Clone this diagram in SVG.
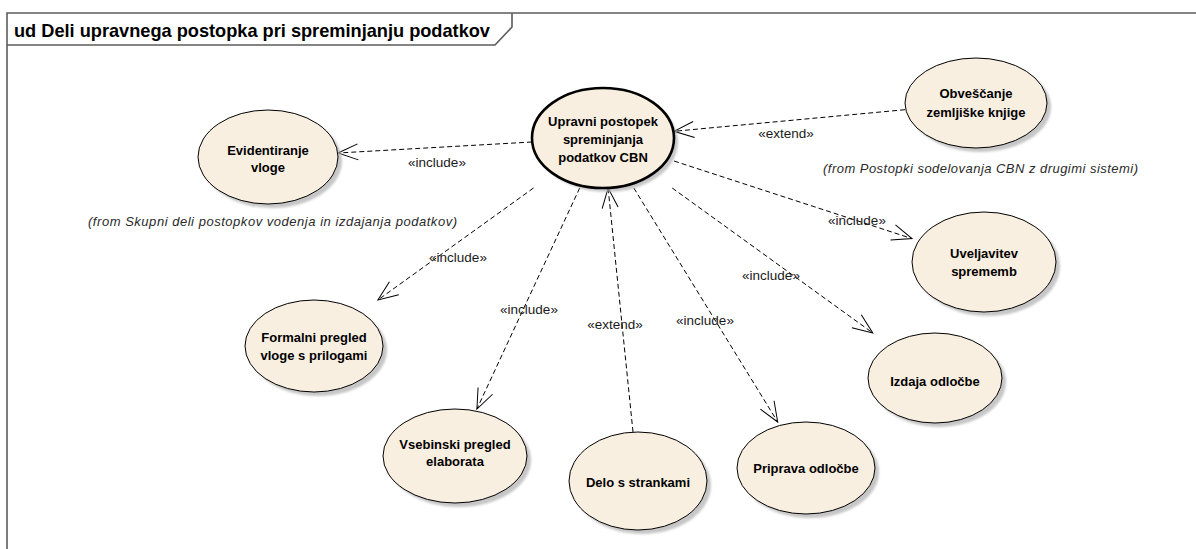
<svg xmlns="http://www.w3.org/2000/svg" width="1196" height="549" viewBox="0 0 1196 549">
  <style>
    .uc { fill: #F9EFE0; stroke: #000; stroke-width: 1; }
    .uc-main { fill: #F9EFE0; stroke: #000; stroke-width: 2.6; }
    .shadow { fill: #b4b4b4; opacity: 0.75; }
    .name { font-family: "Liberation Sans", Arial, sans-serif; font-size: 13px; font-weight: bold; fill: #000; text-anchor: middle; }
    .stereo { font-family: "Liberation Sans", Arial, sans-serif; font-size: 13.5px; fill: #1a1a1a; text-anchor: middle; }
    .from { font-family: "Liberation Sans", Arial, sans-serif; font-size: 13px; font-style: italic; fill: #2a2a2a; }
    .dep { fill: none; stroke: #000; stroke-width: 1; stroke-dasharray: 5 3; marker-end: url(#open); }
    .frame { fill: none; stroke: #5c5c5c; stroke-width: 1.6; }
    .title { font-family: "Liberation Sans", Arial, sans-serif; font-size: 18.2px; font-weight: bold; fill: #000; }
  </style>
  <defs>
    <marker id="open" viewBox="-22 -10 24 20" markerWidth="24" markerHeight="20" refX="0" refY="0" orient="auto" markerUnits="userSpaceOnUse">
      <path d="M-20,-8 L0,0 L-20,8" fill="none" stroke="#000" stroke-width="1" stroke-dasharray="none"/>
    </marker>
    <filter id="soft" x="-10%" y="-10%" width="120%" height="120%">
      <feGaussianBlur stdDeviation="1"/>
    </filter>
  </defs>

  <rect width="1196" height="549" fill="#fff"/>

  <!-- diagram frame and name tab -->
  <g id="frame">
    <path class="frame" d="M7,549 V13 H1196"/>
    <path class="frame" d="M7,45 H495 L512,27 V13"/>
    <text class="title" x="14" y="37">ud Deli upravnega postopka pri spreminjanju podatkov</text>
  </g>

  <!-- dependencies -->
  <g id="connectors">
    <path class="dep" d="M532,142 L338,153"/>
    <path class="dep" d="M905,109.7 L674,131.3"/>
    <path class="dep" d="M674,161 L912,238.6"/>
    <path class="dep" d="M533.5,188 L377.9,300"/>
    <path class="dep" d="M579.7,188 L476.9,409"/>
    <path class="dep" d="M633,432 L608.1,188"/>
    <path class="dep" d="M633.8,188 L777.7,422"/>
    <path class="dep" d="M672.2,188 L872.8,333"/>

    <text class="stereo" x="437" y="166.5">«include»</text>
    <text class="stereo" x="786" y="137.5">«extend»</text>
    <text class="stereo" x="857" y="224.5">«include»</text>
    <text class="stereo" x="458" y="261.5">«include»</text>
    <text class="stereo" x="529" y="313.5">«include»</text>
    <text class="stereo" x="615" y="328.5">«extend»</text>
    <text class="stereo" x="705" y="324.5">«include»</text>
    <text class="stereo" x="771" y="279.5">«include»</text>
  </g>

  <!-- use cases -->
  <g id="uc-upravni-postopek">
    <ellipse class="shadow" cx="607" cy="142" rx="71" ry="50" filter="url(#soft)"/>
    <ellipse class="uc-main" cx="603" cy="138" rx="71" ry="50"/>
    <text class="name" x="603" y="126">Upravni postopek</text>
    <text class="name" x="603" y="144">spreminjanja</text>
    <text class="name" x="603" y="162">podatkov CBN</text>
  </g>

  <g id="uc-evidentiranje">
    <ellipse class="shadow" cx="272" cy="161" rx="70" ry="47" filter="url(#soft)"/>
    <ellipse class="uc" cx="268" cy="157" rx="70" ry="47"/>
    <text class="name" x="268" y="155">Evidentiranje</text>
    <text class="name" x="268" y="172">vloge</text>
    <text class="from" x="88" y="226" textLength="369" lengthAdjust="spacing">(from Skupni deli postopkov vodenja in izdajanja podatkov)</text>
  </g>

  <g id="uc-obvescanje">
    <ellipse class="shadow" cx="980" cy="107" rx="71" ry="45" filter="url(#soft)"/>
    <ellipse class="uc" cx="976" cy="103" rx="71" ry="45"/>
    <text class="name" x="976" y="98">Obveščanje</text>
    <text class="name" x="976" y="117">zemljiške knjige</text>
    <text class="from" x="823" y="173" textLength="315" lengthAdjust="spacing">(from Postopki sodelovanja CBN z drugimi sistemi)</text>
  </g>

  <g id="uc-uveljavitev">
    <ellipse class="shadow" cx="988" cy="266" rx="72" ry="50" filter="url(#soft)"/>
    <ellipse class="uc" cx="984" cy="262" rx="72" ry="50"/>
    <text class="name" x="984" y="258">Uveljavitev</text>
    <text class="name" x="984" y="276">sprememb</text>
  </g>

  <g id="uc-formalni-pregled">
    <ellipse class="shadow" cx="318" cy="350" rx="69" ry="46" filter="url(#soft)"/>
    <ellipse class="uc" cx="314" cy="346" rx="69" ry="46"/>
    <text class="name" x="314" y="342">Formalni pregled</text>
    <text class="name" x="314" y="360">vloge s prilogami</text>
  </g>

  <g id="uc-vsebinski-pregled">
    <ellipse class="shadow" cx="459" cy="460" rx="72" ry="47" filter="url(#soft)"/>
    <ellipse class="uc" cx="455" cy="456" rx="72" ry="47"/>
    <text class="name" x="455" y="449">Vsebinski pregled</text>
    <text class="name" x="455" y="466">elaborata</text>
  </g>

  <g id="uc-delo-s-strankami">
    <ellipse class="shadow" cx="642" cy="485" rx="69" ry="49" filter="url(#soft)"/>
    <ellipse class="uc" cx="638" cy="481" rx="69" ry="49"/>
    <text class="name" x="638" y="487">Delo s strankami</text>
  </g>

  <g id="uc-priprava-odlocbe">
    <ellipse class="shadow" cx="810" cy="472" rx="69" ry="46" filter="url(#soft)"/>
    <ellipse class="uc" cx="806" cy="468" rx="69" ry="46"/>
    <text class="name" x="806" y="473">Priprava odločbe</text>
  </g>

  <g id="uc-izdaja-odlocbe">
    <ellipse class="shadow" cx="939" cy="382" rx="67" ry="45" filter="url(#soft)"/>
    <ellipse class="uc" cx="935" cy="378" rx="67" ry="45"/>
    <text class="name" x="935" y="386">Izdaja odločbe</text>
  </g>
</svg>
